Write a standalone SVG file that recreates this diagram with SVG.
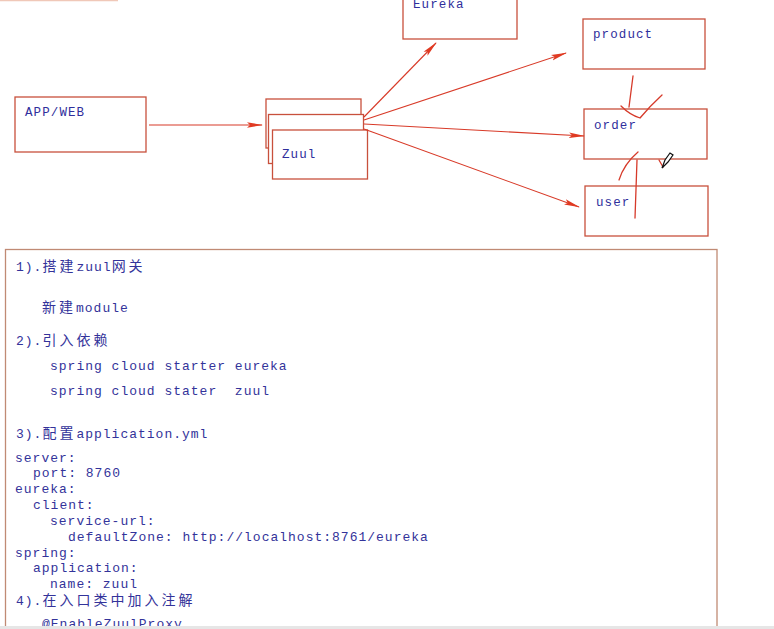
<svg xmlns="http://www.w3.org/2000/svg" width="774" height="629" viewBox="0 0 774 629">
<style>
.box{fill:#fff;stroke:#c8503c;stroke-width:1.3}
.lbl{font-family:"Liberation Mono","Noto Sans CJK SC",monospace;font-size:12.5px;letter-spacing:1.1px;fill:#2f2f9c}
.txt{font-family:"Liberation Mono","Noto Sans CJK SC",monospace;font-size:13px;letter-spacing:1px;fill:#33339a}
.cjk{font-family:"Noto Sans CJK SC",sans-serif;font-size:14px;letter-spacing:3px}
.conn{stroke:#d83a28;stroke-width:1.1;fill:none}
.hand{stroke:#d63a2a;stroke-width:1.3;fill:none;stroke-linecap:round}
</style>
<defs>
<marker id="ah" markerWidth="16" markerHeight="8" refX="15" refY="4" orient="auto" markerUnits="userSpaceOnUse">
<path d="M0,1.2 L16,4 L0,6.8 L3,4 Z" fill="#e03a22"/>
</marker>
</defs>
<rect width="774" height="629" fill="#fff"/>
<line x1="0" y1="0.5" x2="118" y2="0.5" stroke="#f0c8b8" stroke-width="1.5"/>

<g id="appweb"><rect class="box" x="15" y="97" width="131" height="55"/><text class="lbl" x="25" y="116">APP/WEB</text></g>
<g id="zuul">
<rect class="box" x="266" y="99" width="95" height="49"/>
<rect class="box" x="268.5" y="114.5" width="95" height="49"/>
<rect class="box" x="272.5" y="130" width="95" height="49"/>
<text class="lbl" x="282" y="158">Zuul</text>
</g>
<g id="eureka"><rect class="box" x="403" y="-5" width="114" height="44"/><text class="lbl" x="413" y="8">Eureka</text></g>
<g id="product"><rect class="box" x="583" y="19" width="122" height="50"/><text class="lbl" x="593" y="38">product</text></g>
<g id="order"><rect class="box" x="584" y="109" width="123" height="50"/><text class="lbl" x="594" y="129">order</text></g>
<g id="user"><rect class="box" x="585" y="186" width="123" height="50"/><text class="lbl" x="596" y="206">user</text></g>

<g id="connectors">
<line class="conn" x1="149" y1="125" x2="262" y2="125" marker-end="url(#ah)"/>
<line class="conn" x1="364" y1="117" x2="436" y2="43" marker-end="url(#ah)"/>
<line class="conn" x1="364" y1="120" x2="566" y2="53" marker-end="url(#ah)"/>
<line class="conn" x1="364" y1="124" x2="584" y2="136" marker-end="url(#ah)"/>
<line class="conn" x1="364" y1="129" x2="579" y2="207" marker-end="url(#ah)"/>
</g>

<g id="handdrawn">
<path class="hand" d="M633,76 L629,107"/>
<path class="hand" d="M621,106 Q630,115 640,118 Q650,106 662,95"/>
<path class="hand" d="M638,152 Q624,164 619,180"/>
<path class="hand" d="M637,160 L635,218"/>
<path class="hand" d="M659,160 L663,167"/>
<path d="M662,168 L665,160 L670,153 L673,155 L668,162 Z" fill="#fff" stroke="#111" stroke-width="1.2"/>
</g>

<g id="notes">
<rect x="5.5" y="249.5" width="711.5" height="385" fill="none" stroke="#c08a74" stroke-width="1.3"/>
<text class="txt" x="16" y="271">1).<tspan class="cjk">搭建</tspan>zuul<tspan class="cjk">网关</tspan></text>
<text class="txt" x="42" y="312"><tspan class="cjk">新建</tspan>module</text>
<text class="txt" x="16" y="345">2).<tspan class="cjk">引入依赖</tspan></text>
<text class="txt" x="50" y="370">spring cloud starter eureka</text>
<text class="txt" x="50" y="395" xml:space="preserve">spring cloud stater  zuul</text>
<text class="txt" x="16" y="438">3).<tspan class="cjk">配置</tspan>application.yml</text>
<text class="txt" x="15" y="462">server:</text>
<text class="txt" x="33" y="477">port: 8760</text>
<text class="txt" x="15" y="493">eureka:</text>
<text class="txt" x="33" y="509">client:</text>
<text class="txt" x="50" y="525">service-url:</text>
<text class="txt" x="68" y="541">defaultZone: http://localhost:8761/eureka</text>
<text class="txt" x="15" y="557">spring:</text>
<text class="txt" x="33" y="572">application:</text>
<text class="txt" x="50" y="588">name: zuul</text>
<text class="txt" x="16" y="605">4).<tspan class="cjk">在入口类中加入注解</tspan></text>
<text class="txt" x="42" y="628">@EnableZuulProxy</text>
</g>
<rect x="0" y="626" width="774" height="3" fill="#e6e6e6"/>
</svg>
